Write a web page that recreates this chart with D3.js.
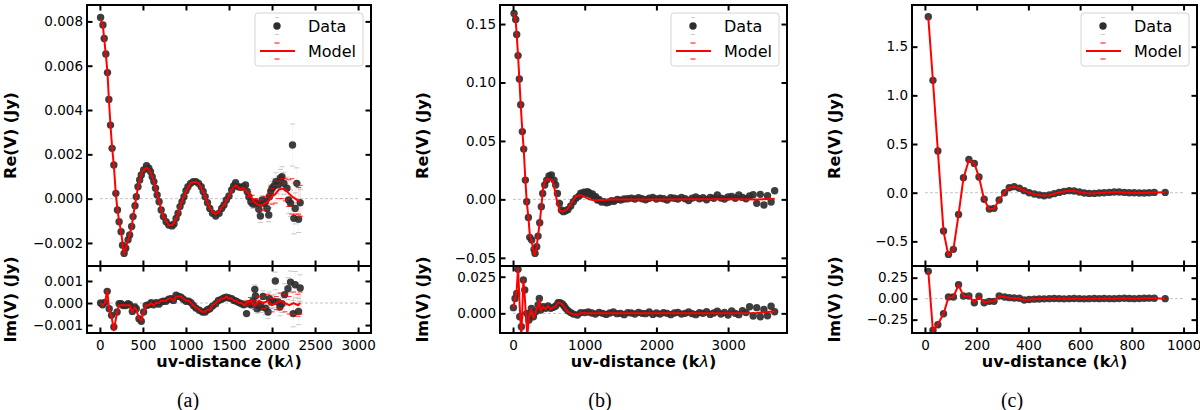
<!DOCTYPE html>
<html>
<head>
<meta charset="utf-8">
<script src="https://cdn.jsdelivr.net/npm/d3@7"></script>
<style>
  body { margin: 0; background: #fff; }
  svg { display: block; }
</style>
</head>
<body>
<svg width="1200" height="410"></svg>
<script>
// ---- data: [uv-distance (klambda), value (Jy), optional error] ----

// (a)
const aReData = [
  [8, 0.00818], [35, 0.00784], [50, 0.00723], [69, 0.00653], [88, 0.00569], [104, 0.00448],
  [123, 0.00332], [142, 0.00227], [162, 0.00152], [185, 0.00024], [204, -0.00051], [223, -0.00104],
  [246, -0.00149], [263, -0.0021], [281, -0.00247], [300, -0.00224], [327, -0.00186], [346, -0.00164],
  [369, -0.00126], [385, -0.00081], [408, -0.00032], [423, 0.00009], [442, 0.00054], [462, 0.00084],
  [481, 0.00107], [508, 0.00129], [542, 0.00149], [569, 0.00137], [588, 0.00122], [608, 0.00099],
  [627, 0.00077], [646, 0.00047], [665, 0.00017], [688, -0.00014], [712, -0.00051], [738, -0.00081],
  [769, -0.00104], [800, -0.00119], [838, -0.00123], [861, -0.00114], [885, -0.00089], [908, -0.00066],
  [931, -0.00036], [954, -0.00014], [977, 0.00009], [1000, 0.00036], [1023, 0.00054], [1054, 0.00069],
  [1085, 0.00077], [1115, 0.00077], [1146, 0.00069], [1177, 0.00054], [1200, 0.00032], [1223, 0.00009],
  [1250, -0.00018], [1277, -0.00044], [1308, -0.00066], [1346, -0.00078], [1385, -0.00066], [1415, -0.00044],
  [1442, -0.00029], [1469, -0.00006], [1500, 0.00012], [1531, 0.00039], [1554, 0.00057], [1577, 0.00072],
  [1608, 0.00054], [1635, 0.00051], [1662, 0.00054], [1692, 0.00062], [1711, 0.00032, 0.0001],
  [1731, 0.00009, 0.00015], [1754, -0.00014, 0.00015], [1777, -0.00024, 0.0002], [1808, -0.00018, 0.0002],
  [1827, -0.00021, 0.0002], [1846, -0.00048, 0.00025], [1865, -0.00078, 0.0003], [1885, -0.00006, 0.0002],
  [1904, -0.00021, 0.00025], [1923, -0.00014, 0.00025], [1942, -0.00044, 0.0003], [1962, -0.00074, 0.0003],
  [1969, 0.00009, 0.0003], [1985, 0.00032, 0.0003], [2000, 0.00047, 0.0003], [2023, 0.00057, 0.00035],
  [2046, 0.00077, 0.0004], [2069, 0.00062, 0.0004], [2096, 0.00092, 0.0004], [2115, 0.00099, 0.00045],
  [2138, 0.00069, 0.0005], [2173, 0.00047, 0.0005], [2192, -0.00006, 0.0006], [2215, -0.00021, 0.0006],
  [2238, 0.00242, 0.00095], [2254, -0.00089, 0.0007], [2269, -0.00044, 0.0007], [2288, 0.00069, 0.0007],
  [2308, -0.00093, 0.0006], [2327, -0.00018, 0.0006]
];
const aReModel = [
  [8, 0.0081], [35, 0.0078], [50, 0.0072], [69, 0.0065], [88, 0.0057], [104, 0.0045], [123, 0.0033],
  [142, 0.0023], [162, 0.0015], [185, 0.0002], [204, -0.0005], [223, -0.001], [246, -0.0015],
  [281, -0.0025], [300, -0.0022], [327, -0.0019], [346, -0.0016], [369, -0.0013], [385, -0.0008],
  [408, -0.0003], [423, 0.0001], [442, 0.0005], [462, 0.0008], [481, 0.0011], [508, 0.0013],
  [542, 0.0014], [569, 0.0013], [588, 0.0012], [608, 0.001], [627, 0.0008], [646, 0.0005],
  [665, 0.0002], [688, -0.0001], [712, -0.0005], [738, -0.0008], [769, -0.001], [800, -0.0012],
  [838, -0.0012], [861, -0.0011], [885, -0.0009], [908, -0.0007], [931, -0.0004], [954, -0.0001],
  [977, 0.0001], [1000, 0.0003], [1023, 0.0005], [1054, 0.0007], [1085, 0.00075], [1115, 0.00075],
  [1146, 0.0007], [1177, 0.0005], [1200, 0.0003], [1223, 0.0001], [1250, -0.0002], [1277, -0.0004],
  [1308, -0.0006], [1346, -0.0007], [1385, -0.0006], [1415, -0.0004], [1442, -0.0003], [1469, -0.0001],
  [1500, 0.0001], [1531, 0.0004], [1554, 0.0005], [1577, 0.0006], [1608, 0.0005], [1635, 0.0004],
  [1662, 0.0005], [1692, 0.0004], [1731, 0.0002, 0.0001], [1769, 0.0, 0.00015], [1808, -0.0002, 0.0002],
  [1846, -0.0003, 0.0002], [1885, -0.0003, 0.00025], [1923, -0.0002, 0.0003], [1962, -0.0001, 0.0003],
  [2000, 0.0001, 0.00035], [2038, 0.0002, 0.0004], [2077, 0.0004, 0.0004], [2115, 0.00045, 0.00045],
  [2154, 0.0004, 0.0005], [2192, 0.00025, 0.0006], [2230, 0.0001, 0.0008], [2269, 0.0, 0.0007],
  [2308, -0.0001, 0.0006], [2327, -0.0001, 0.0007]
];
const aImData = [
  [8, 0.0], [31, -0.00008], [58, 0.00003], [85, 0.00053], [108, -0.00026], [135, -0.00056], [162, -0.00109],
  [200, -0.00041], [223, -0.00003], [246, -0.00003], [269, -0.00011], [300, -0.00011], [327, -0.00003],
  [346, -0.00008], [377, -0.00038], [404, -0.00018], [423, -0.00026], [454, -0.00071], [481, -0.00083],
  [508, -0.00041], [538, -0.00011], [569, -0.00008], [596, 0.00002], [623, -0.00008], [654, 0.00002],
  [685, -0.00005], [712, 0.00005], [738, 0.00008], [769, 0.00008], [800, 0.00017], [827, 0.0002],
  [854, 0.00012], [885, 0.00035], [915, 0.0003], [942, 0.00027], [969, 0.00017], [1000, 0.00008],
  [1031, 0.00008], [1058, 0.00002], [1085, -0.00011], [1115, -0.00023], [1154, -0.00033], [1192, -0.00041],
  [1223, -0.00041], [1250, -0.0003], [1277, -0.00026], [1308, -0.00014], [1346, -0.00003], [1377, 0.00012],
  [1415, 0.00017], [1442, 0.00023], [1469, 0.00027], [1500, 0.00023], [1531, 0.0002], [1558, 0.00012],
  [1585, 0.00008], [1615, 0.00002], [1646, -0.00003], [1673, -0.00008], [1704, -0.00048, 0.0001],
  [1731, -0.00003, 0.00015], [1758, -0.00008, 0.00015], [1777, 0.00008, 0.0002], [1800, 0.00062, 0.0002],
  [1808, 0.00032, 0.0002], [1827, -0.00026, 0.0002], [1846, -0.00011, 0.00025], [1873, -0.00018, 0.00025],
  [1896, 0.0003, 0.00025], [1923, -0.00023, 0.0003], [1954, -0.00041, 0.0003], [1969, 0.0002, 0.0003],
  [1992, 0.00005, 0.0003], [2019, 0.00008, 0.0003], [2038, 0.001, 0.0004], [2069, 0.00005, 0.0004],
  [2092, -0.00018, 0.0004], [2115, -0.00003, 0.0004], [2146, 0.00038, 0.0005], [2185, 0.00065, 0.0005],
  [2215, 0.00095, 0.0005], [2246, -0.00048, 0.0006], [2269, 0.00083, 0.0006], [2308, -0.00038, 0.0006],
  [2327, 0.00068, 0.0006]
];
const aImModel = [
  [8, 0.0], [31, -0.0001], [58, 0.0], [85, 0.00055], [108, -0.0003], [135, -0.0006], [162, -0.00124],
  [200, -0.0004], [223, -0.0001], [246, -0.0001], [269, -0.0001], [300, -0.0001], [327, -0.0001],
  [346, -0.0001], [377, -0.0004], [404, -0.0002], [423, -0.0003], [454, -0.0007], [481, -0.0008],
  [508, -0.0004], [538, -0.0001], [569, -0.0001], [596, 0.0], [623, -0.0001], [654, 0.0], [685, 0.0],
  [712, 0.0001], [738, 0.0001], [769, 0.0001], [800, 0.0002], [827, 0.0002], [854, 0.0001], [885, 0.0003],
  [915, 0.0003], [942, 0.0003], [969, 0.0002], [1000, 0.0001], [1031, 0.0001], [1058, 0.0],
  [1085, -0.0001], [1115, -0.0002], [1154, -0.0003], [1192, -0.0004], [1223, -0.0004], [1250, -0.0003],
  [1277, -0.0003], [1308, -0.0001], [1346, 0.0], [1377, 0.0001], [1415, 0.0002], [1442, 0.0002],
  [1469, 0.0003], [1500, 0.0002], [1531, 0.0002], [1558, 0.0001], [1585, 0.0001], [1615, 0.0],
  [1646, 0.0], [1673, -0.0001], [1704, 0.0, 0.0001], [1750, 0.0001, 0.00015], [1800, -0.0001, 0.0002],
  [1850, 0.0001, 0.0002], [1900, 0.0, 0.00025], [1950, 0.0001, 0.0003], [2000, -0.0001, 0.0003],
  [2050, 0.0, 0.0003], [2100, 0.0001, 0.00035], [2150, 0.0, 0.0004], [2200, -0.0001, 0.0004],
  [2250, 0.0, 0.0005], [2300, -0.0001, 0.0005], [2327, 0.0, 0.0005]
];

// (b)
const bReData = [
  [14, 0.159], [37, 0.154], [51, 0.141], [70, 0.123], [88, 0.103], [107, 0.081], [130, 0.058],
  [149, 0.043], [172, 0.0165], [191, -0.002], [214, -0.0154], [233, -0.0325], [260, -0.0348],
  [293, -0.0428], [307, -0.0462], [330, -0.0405], [349, -0.0314], [372, -0.020], [395, -0.0063],
  [414, 0.0051], [442, 0.0123], [470, 0.0165], [502, 0.020], [535, 0.0208], [572, 0.0165],
  [595, 0.0123], [619, 0.0051], [647, -0.0034], [674, -0.0091], [702, -0.0105], [735, -0.0097],
  [767, -0.0086], [805, -0.0057], [842, -0.002], [879, 0.0009], [921, 0.0029], [945, 0.0052], [967, 0.0046],
  [990, 0.0062], [1014, 0.0051], [1037, 0.0066], [1060, 0.0057], [1083, 0.0040], [1107, 0.0046],
  [1130, 0.0020], [1153, 0.0023], [1177, -0.0006], [1200, 0.0], [1235, -0.0023], [1270, -0.002],
  [1305, -0.0029], [1340, -0.0023], [1375, -0.0011], [1409, -0.0017], [1455, 0.0], [1502, -0.0006],
  [1550, 0.0003], [1600, 0.0006], [1650, 0.0011], [1700, 0.0003], [1750, 0.0014], [1800, 0.0006],
  [1850, -0.0003], [1900, 0.0009], [1950, 0.0017], [2000, 0.0003], [2050, 0.0011], [2100, 0.0006],
  [2150, -0.0006], [2200, 0.0014], [2250, 0.0009], [2300, 0.0003], [2350, 0.0017], [2400, 0.0006],
  [2450, -0.0009], [2500, 0.0011], [2550, 0.002], [2600, 0.0006], [2650, 0.0014], [2700, -0.0003],
  [2750, 0.0017], [2800, 0.0009], [2850, 0.0037], [2900, 0.0011], [2950, 0.0003], [3000, 0.002],
  [3050, 0.0026], [3100, 0.0009], [3150, 0.0037], [3200, 0.0017], [3250, 0.0006], [3300, 0.0029],
  [3350, 0.004], [3400, -0.0034], [3450, 0.0043], [3500, -0.0048], [3550, 0.0031], [3600, -0.0023],
  [3650, 0.0074]
];
const bReModel = [
  [14, 0.159], [37, 0.153], [51, 0.141], [70, 0.123], [88, 0.103], [107, 0.081], [130, 0.058],
  [149, 0.043], [172, 0.0165], [191, -0.002], [214, -0.0154], [233, -0.030], [260, -0.036],
  [293, -0.046], [307, -0.0475], [330, -0.040], [349, -0.031], [372, -0.020], [395, -0.0063],
  [419, 0.010], [447, 0.0155], [479, 0.018], [512, 0.017], [549, 0.016], [572, 0.0115], [595, 0.004],
  [623, -0.004], [651, -0.0095], [693, -0.0105], [726, -0.0095], [763, -0.008], [800, -0.005],
  [837, -0.001], [879, 0.0025], [926, 0.0035], [972, 0.003], [1019, 0.0015], [1065, 0.0],
  [1112, -0.0005], [1158, -0.0008], [1228, -0.0006], [1300, -0.0003], [1400, 0.0], [1600, 0.0],
  [2000, 0.0], [2500, 0.0002], [3000, 0.0001], [3400, 0.0], [3650, 0.0005]
];
const bImData = [
  [5, 0.0039], [28, 0.0102], [51, 0.0136], [70, 0.030], [93, -0.0023], [116, -0.0091], [144, 0.0227],
  [163, 0.016], [191, 0.0], [223, -0.0045], [256, 0.0034], [284, -0.0023], [316, 0.0011], [349, 0.0057],
  [367, 0.0102], [386, 0.0023], [423, 0.0045], [456, 0.0034], [488, 0.005], [526, 0.0034], [563, 0.0041],
  [595, 0.005], [628, 0.0073], [656, 0.0073], [688, 0.0064], [712, 0.005], [735, 0.0034], [767, 0.0018],
  [805, 0.0005], [842, -0.0005], [898, -0.0011], [944, 0.0005],
  [1000, 0.0005], [1050, 0.0009], [1100, 0.0002], [1150, -0.0005], [1200, 0.0007], [1250, 0.0],
  [1300, -0.0007], [1350, 0.0002], [1400, 0.0009], [1450, -0.0002], [1500, 0.0], [1550, -0.0009],
  [1600, 0.0005], [1650, 0.0002], [1700, -0.0005], [1750, 0.0007], [1800, 0.0], [1850, -0.0002],
  [1900, 0.0009], [1950, -0.0007], [2000, 0.0002], [2050, -0.0005], [2100, 0.0005], [2150, 0.0],
  [2200, -0.0009], [2250, 0.0002], [2300, 0.0007], [2350, -0.0005], [2400, 0.0], [2450, 0.0009],
  [2500, -0.0002], [2550, -0.0009], [2600, 0.0005], [2650, 0.0], [2700, 0.0011], [2750, -0.0007],
  [2800, 0.0002], [2850, 0.0014], [2900, -0.0005], [2950, 0.0007], [3000, -0.0011], [3050, 0.0016],
  [3100, 0.0], [3150, -0.0009], [3200, 0.0018], [3250, 0.0005], [3300, 0.0045], [3350, -0.0018],
  [3400, 0.0039], [3450, -0.0023], [3500, 0.0027], [3550, -0.0016], [3600, 0.0048], [3650, 0.0011]
];
const bImModel = [
  [5, 0.004], [28, 0.010], [51, 0.016], [70, 0.031], [93, 0.005], [116, -0.016], [144, 0.0227],
  [163, 0.012], [185, -0.006], [200, -0.015], [223, -0.002], [256, 0.003], [284, -0.003], [316, 0.001],
  [349, 0.005], [367, 0.009], [386, 0.002], [423, 0.0045], [456, 0.003], [488, 0.005], [526, 0.003],
  [563, 0.004], [595, 0.005], [628, 0.0073], [656, 0.0073], [688, 0.006], [712, 0.0045], [735, 0.003],
  [767, 0.001], [805, 0.0], [842, -0.0005], [898, -0.001], [944, 0.0002], [1000, 0.0], [3000, 0.0],
  [3400, 0.0003], [3650, 0.0015]
];

// (c)
const cUv = [13, 31, 50, 72, 91, 110, 130, 149, 170, 191, 209, 229, 249, 267, 287, 308, 326, 345, 365, 384,
  403, 423, 442, 461, 481, 500, 519, 538, 558, 577, 597, 616, 635, 655, 674, 693, 713, 732, 751, 771,
  790, 809, 829, 848, 867, 887, 929];
const cRe = [1.808, 1.154, 0.428, -0.394, -0.634, -0.582, -0.223, 0.154, 0.342, 0.301, 0.161, -0.068,
  -0.168, -0.161, -0.075, 0.0, 0.051, 0.062, 0.045, 0.021, 0.0, -0.014, -0.024, -0.031, -0.024, -0.01,
  0.003, 0.014, 0.021, 0.017, 0.007, -0.003, -0.007, -0.007, -0.003, 0.0, 0.003, 0.007, 0.007, 0.003,
  0.0, 0.0, -0.003, -0.003, 0.0, 0.003, 0.003];
const cReModel = [1.80, 1.15, 0.43, -0.40, -0.645, -0.585, -0.225, 0.15, 0.335, 0.30, 0.16, -0.07,
  -0.17, -0.165, -0.075, 0.005, 0.05, 0.06, 0.045, 0.02, 0.0, -0.015, -0.025, -0.03, -0.025, -0.01,
  0.003, 0.012, 0.02, 0.017, 0.008, -0.003, -0.007, -0.007, -0.003, 0.0, 0.004, 0.008, 0.007, 0.003,
  0.0, -0.002, -0.004, -0.003, 0.0, 0.003, 0.004];
const cIm = [0.325, -0.377, -0.31, -0.179, 0.02, 0.02, 0.167, 0.032, 0.032, -0.048, 0.028, -0.048,
  -0.032, -0.032, 0.032, 0.02, 0.012, 0.008, 0.004, -0.016, -0.01, -0.006, -0.004, -0.002, 0.0, 0.002,
  0.0, -0.002, 0.0, 0.002, 0.0, -0.002, 0.0, 0.002, 0.0, 0.002, 0.0, 0.0, 0.002, 0.004, 0.002, 0.0,
  0.002, 0.004, 0.006, 0.004, 0.0];
const cImModel = [0.33, -0.385, -0.305, -0.18, 0.015, 0.02, 0.165, 0.03, 0.03, -0.045, 0.025, -0.045,
  -0.03, -0.03, 0.03, 0.02, 0.012, 0.008, 0.002, -0.016, -0.01, -0.006, -0.004, -0.002, 0.0, 0.002,
  0.0, -0.002, 0.0, 0.002, 0.0, -0.002, 0.0, 0.002, 0.0, 0.002, 0.0, 0.0, 0.002, 0.004, 0.002, 0.0,
  0.002, 0.004, 0.004, 0.004, 0.0];

// ticks
const aUvTicks = [0, 500, 1000, 1500, 2000, 2500, 3000];
const aReTicks = [-0.002, 0, 0.002, 0.004, 0.006, 0.008];
const aImTicks = [-0.001, 0, 0.001];
const bUvTicks = [0, 1000, 2000, 3000];
const bReTicks = [-0.05, 0, 0.05, 0.10, 0.15];
const bImTicks = [0, 0.025];
const cUvTicks = [0, 200, 400, 600, 800, 1000];
const cReTicks = [-0.5, 0, 0.5, 1.0, 1.5];
const cImTicks = [-0.25, 0, 0.25];

const legendLabels = ["Data", "Model"];
const captions = ["(a)", "(b)", "(c)"];

// ---- layout ----
const svg = d3.select("svg");
const font = "DejaVu Sans, sans-serif";
const yTop = 5, yMid = 266, yBot = 333;
const zip = (u, v) => u.map((d, i) => [d, v[i]]);

const panels = [
  {left: 87, right: 371, uvDomain: [-150, 3150], uvTicks: aUvTicks, zeroEnd: 3000,
   reDomain: [-0.00304, 0.00874], reTicks: aReTicks, reFmt: ".3f",
   imDomain: [-0.00136, 0.00168], imTicks: aImTicks, imFmt: ".3f",
   re: aReData, reModel: aReModel, im: aImData, imModel: aImModel,
   yLabelX: 10, captionX: 188},
  {left: 500, right: 787, uvDomain: [-182, 3822], uvTicks: bUvTicks, zeroEnd: 3650,
   reDomain: [-0.057, 0.1663], reTicks: bReTicks, reFmt: ".2f",
   imDomain: [-0.0134, 0.0323], imTicks: bImTicks, imFmt: ".3f",
   re: bReData, reModel: bReModel, im: bImData, imModel: bImModel,
   yLabelX: 422, captionX: 600},
  {left: 912, right: 1197, uvDomain: [-50, 1052], uvTicks: cUvTicks, zeroEnd: 1000,
   reDomain: [-0.753, 1.928], reTicks: cReTicks, reFmt: ".1f",
   imDomain: [-0.409, 0.389], imTicks: cImTicks, imFmt: ".2f",
   re: zip(cUv, cRe), reModel: zip(cUv, cReModel), im: zip(cUv, cIm), imModel: zip(cUv, cImModel),
   yLabelX: 834, captionX: 1012}
];

let clipCount = 0;

function drawAxes(x, y, uvTicks, yTicks, yFmt, showUvLabels) {
  const [x0, x1] = x.range();
  const [yb, yt] = y.range();
  const axes = [
    [d3.axisLeft(y).tickValues(yTicks).tickFormat(d3.format(yFmt)).tickPadding(4), `translate(${x0},0)`],
    [d3.axisRight(y).tickValues(yTicks).tickFormat(""), `translate(${x1},0)`],
    [d3.axisTop(x).tickValues(uvTicks).tickFormat(""), `translate(0,${yt})`],
    [d3.axisBottom(x).tickValues(uvTicks).tickFormat(showUvLabels ? d3.format("d") : "").tickPadding(7), `translate(0,${yb})`]
  ];
  axes.forEach(([ax, tr]) => {
    const g = svg.append("g").attr("transform", tr)
      .call(ax.tickSizeInner(-5.5).tickSizeOuter(0));
    g.select(".domain").remove();
    g.selectAll(".tick line").attr("stroke", "#000").attr("stroke-width", 2);
    g.selectAll("text").attr("font-family", font).attr("font-size", 13.5).attr("fill", "#000");
  });
  svg.append("rect")
    .attr("x", x0).attr("y", yt).attr("width", x1 - x0).attr("height", yb - yt)
    .attr("fill", "none").attr("stroke", "#000").attr("stroke-width", 2);
}

function drawSeries(x, y, data, model, zeroEnd) {
  const id = "clip" + (clipCount++);
  const [x0, x1] = x.range();
  const [yb, yt] = y.range();
  svg.append("clipPath").attr("id", id).append("rect")
    .attr("x", x0).attr("y", yt).attr("width", x1 - x0).attr("height", yb - yt);
  const g = svg.append("g").attr("clip-path", `url(#${id})`);

  g.append("line")
    .attr("x1", x(0)).attr("x2", x(zeroEnd)).attr("y1", y(0)).attr("y2", y(0))
    .attr("stroke", "#c4c4c4").attr("stroke-width", 1).attr("stroke-dasharray", "3,2");

  // faint bars, visible caps
  const errBars = (rows, color, barOp, capOp) => {
    const e = g.append("g").attr("stroke", color).attr("stroke-width", 1);
    rows.filter(d => d[2]).forEach(d => {
      const cx = x(d[0]), ya = y(d[1] + d[2]), yb2 = y(d[1] - d[2]);
      e.append("line").attr("x1", cx).attr("x2", cx).attr("y1", ya).attr("y2", yb2).attr("stroke-opacity", barOp);
      e.append("line").attr("x1", cx - 2.5).attr("x2", cx + 2.5).attr("y1", ya).attr("y2", ya).attr("stroke-opacity", capOp);
      e.append("line").attr("x1", cx - 2.5).attr("x2", cx + 2.5).attr("y1", yb2).attr("y2", yb2).attr("stroke-opacity", capOp);
    });
  };

  errBars(data, "#b0b0b0", 0.12, 0.7);
  g.selectAll("circle.pt").data(data).enter().append("circle")
    .attr("class", "pt")
    .attr("cx", d => x(d[0])).attr("cy", d => y(d[1])).attr("r", 3.7)
    .attr("fill", "#2e2e2e").attr("fill-opacity", 0.92);

  errBars(model, "#ff0000", 0.12, 0.85);
  g.append("path").datum(model)
    .attr("d", d3.line().x(d => x(d[0])).y(d => y(d[1])))
    .attr("fill", "none").attr("stroke", "#ff0000").attr("stroke-width", 2)
    .attr("stroke-linejoin", "round");
}

function drawLegend(right) {
  const w = 108, h = 53, bx = right - 8 - w, by = yTop + 8;
  const g = svg.append("g");
  g.append("rect").attr("x", bx).attr("y", by).attr("width", w).attr("height", h).attr("rx", 3)
    .attr("fill", "#fff").attr("fill-opacity", 0.8).attr("stroke", "#d4d4d4").attr("stroke-width", 1);
  const rows = [by + 13, by + 38];
  const mx = bx + 22;
  [-8.5, 8.5].forEach(o => g.append("line").attr("x1", mx - 2).attr("x2", mx + 2)
    .attr("y1", rows[0] + o).attr("y2", rows[0] + o).attr("stroke", "#cccccc").attr("stroke-width", 1));
  g.append("circle").attr("cx", mx).attr("cy", rows[0]).attr("r", 3.7).attr("fill", "#2e2e2e");
  [-8, 8].forEach(o => g.append("line").attr("x1", mx - 2.5).attr("x2", mx + 2.5)
    .attr("y1", rows[1] + o).attr("y2", rows[1] + o).attr("stroke", "#ff0000").attr("stroke-width", 1));
  g.append("line").attr("x1", bx + 5).attr("x2", bx + 40).attr("y1", rows[1]).attr("y2", rows[1])
    .attr("stroke", "#ff0000").attr("stroke-width", 2);
  legendLabels.forEach((t, i) => g.append("text")
    .attr("x", bx + 53).attr("y", rows[i] + 5.8)
    .attr("font-family", font).attr("font-size", 16).text(t));
}

panels.forEach((p, i) => {
  const x = d3.scaleLinear().domain(p.uvDomain).range([p.left, p.right]);
  const yRe = d3.scaleLinear().domain(p.reDomain).range([yMid, yTop]);
  const yIm = d3.scaleLinear().domain(p.imDomain).range([yBot, yMid]);

  drawSeries(x, yRe, p.re, p.reModel, p.zeroEnd);
  drawSeries(x, yIm, p.im, p.imModel, p.zeroEnd);
  drawAxes(x, yRe, p.uvTicks, p.reTicks, p.reFmt, false);
  drawAxes(x, yIm, p.uvTicks, p.imTicks, p.imFmt, true);
  drawLegend(p.right);

  svg.append("text")
    .attr("transform", `translate(${p.yLabelX},${(yTop + yMid) / 2}) rotate(-90)`)
    .attr("text-anchor", "middle").attr("dy", "0.36em")
    .attr("font-family", font).attr("font-size", 16).attr("font-weight", "bold")
    .text("Re(V) (Jy)");
  svg.append("text")
    .attr("transform", `translate(${p.yLabelX},${(yMid + yBot) / 2}) rotate(-90)`)
    .attr("text-anchor", "middle").attr("dy", "0.36em")
    .attr("font-family", font).attr("font-size", 16).attr("font-weight", "bold")
    .text("Im(V) (Jy)");

  const xl = svg.append("text")
    .attr("x", (p.left + p.right) / 2).attr("y", 367)
    .attr("text-anchor", "middle")
    .attr("font-family", font).attr("font-size", 16).attr("font-weight", "bold");
  xl.append("tspan").text("uv-distance (k");
  xl.append("tspan").attr("font-style", "italic").attr("font-weight", "normal").text("λ");
  xl.append("tspan").text(")");

  svg.append("text")
    .attr("x", p.captionX).attr("y", 407)
    .attr("text-anchor", "middle")
    .attr("font-family", "Liberation Serif, serif").attr("font-size", 20)
    .text(captions[i]);
});
</script>
</body>
</html>
